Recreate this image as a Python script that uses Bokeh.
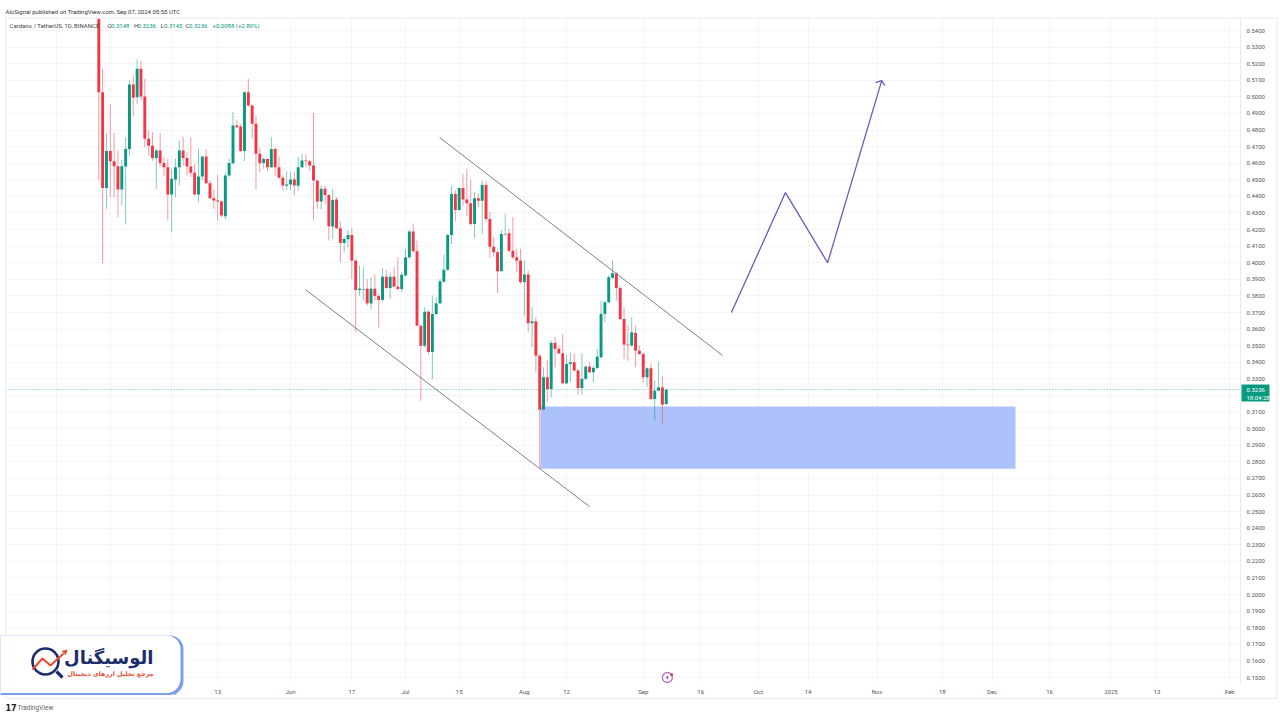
from bokeh.plotting import figure
from bokeh.layouts import column, row
from bokeh.models import FixedTicker, NumeralTickFormatter, Label, BoxAnnotation
from bokeh.embed import file_html
from bokeh.resources import INLINE

opens = [.575,.5028,.4450,.4673,.4612,.4582,.4442,.4580,.4685,.5075,
 .4998,.5169,.5002,.4747,.4705,.4632,.4677,.4602,.4576,.4411,
 .4502,.4576,.4677,.4632,.4580,.4542,.4411,.4520,.4640,.4480,
 .4389,.4375,.4369,.4281,.4526,.4600,.4827,.4821,.4673,.5028,
 .4948,.4838,.4657,.4602,.4626,.4576,.4685,.4576,.4512,.4464,
 .4472,.4502,.4464,.4576,.4616,.4612,.4586,.4496,.4369,.4446,
 .4409,.4218,.4381,.4208,.4119,.4141,.4167,.4013,.3836,.3838,
 .3844,.3755,.3844,.3800,.3776,.3916,.3848,.3916,.3856,.3842,
 .3924,.4033,.4188,.4069,.3621,.3500,.3705,.3462,.3691,.3755,
 .3886,.3958,.4167,.4415,.4318,.4451,.4381,.4358,.4234,.4389,
 .4374,.4469,.4264,.4097,.4063,.3949,.4170,.4178,.4073,.4033,
 .4013,.3883,.3929,.3635,.3647,.3440,.3115,.3310,.3239,.3517,
 .3481,.3454,.3273,.3390,.3400,.3350,.3245,.3300,.3374,.3340,
 .3366,.3430,.3692,.3762,.3909,.3937,.3848,.3661,.3507,.3501,
 .3577,.3470,.3450,.3310,.3364,.3179,.3229,.3249,.3148]
closes = [.5028,.4450,.4673,.4612,.4582,.4442,.4582,.4685,.5075,.4994,
 .5169,.5002,.4747,.4705,.4631,.4677,.4602,.4576,.4411,.4506,
 .4576,.4677,.4632,.4580,.4542,.4411,.4520,.4640,.4480,.4389,
 .4375,.4369,.4285,.4526,.4602,.4827,.4817,.4673,.5028,.4948,
 .4838,.4657,.4600,.4626,.4576,.4685,.4576,.4512,.4466,.4472,
 .4502,.4466,.4576,.4616,.4612,.4586,.4496,.4369,.4446,.4409,
 .4220,.4379,.4208,.4119,.4143,.4167,.4013,.3836,.3844,.3842,
 .3755,.3844,.3800,.3776,.3916,.3848,.3916,.3856,.3842,.3928,
 .4033,.4188,.4069,.3621,.3500,.3705,.3462,.3691,.3755,.3888,
 .3958,.4167,.4415,.4318,.4451,.4381,.4358,.4234,.4389,.4374,
 .4469,.4264,.4097,.4063,.3948,.4174,.4174,.4073,.4033,.4013,
 .3883,.3929,.3635,.3647,.3440,.3115,.3310,.3239,.3517,.3481,
 .3454,.3273,.3390,.3400,.3350,.3245,.3300,.3374,.3340,.3366,
 .3434,.3692,.3762,.3913,.3937,.3848,.3661,.3507,.3503,.3581,
 .3470,.3450,.3310,.3364,.3179,.3229,.3249,.3145,.3236]
highs = [.60,.5169,.4781,.4954,.4783,.4677,.4620,.4757,.5099,.5129,
 .5225,.5219,.5109,.4801,.4787,.4687,.4783,.4636,.4626,.4566,
 .4626,.4737,.4761,.4667,.4757,.4596,.4687,.4640,.4687,.4496,
 .4440,.4530,.4375,.4542,.4626,.4908,.4862,.4837,.5034,.5109,
 .4954,.4888,.4693,.4637,.4630,.4757,.4697,.4640,.4526,.4552,
 .4550,.4550,.4637,.4657,.4651,.4620,.4902,.4496,.4466,.4466,
 .4415,.4445,.4395,.4250,.4157,.4198,.4210,.4023,.3983,.3973,
 .3902,.3912,.3928,.3812,.3968,.3956,.3942,.3973,.4033,.3942,
 .4083,.4198,.4238,.4133,.3621,.3731,.3711,.3802,.3792,.3902,
 .4049,.4173,.4465,.4435,.4455,.4535,.4565,.4499,.4425,.4415,
 .4495,.4491,.4304,.4157,.4073,.4198,.4295,.4204,.4275,.4084,
 .4084,.4013,.3953,.3732,.3671,.3450,.3370,.3410,.3531,.3551,
 .3501,.3567,.3446,.3460,.3454,.3360,.3454,.3380,.3400,.3380,
 .3481,.3772,.3772,.3923,.4013,.3943,.3862,.3732,.3621,.3671,
 .3621,.3501,.3454,.3370,.3394,.3290,.3404,.3320,.3236]
lows = [.4496,.3997,.4325,.4395,.4395,.4275,.4345,.4231,.4647,.4882,
 .4958,.4978,.4697,.4647,.4616,.4446,.4576,.4526,.4255,.4184,
 .4395,.4466,.4586,.4526,.4516,.4405,.4365,.4496,.4476,.4385,
 .4325,.4255,.4275,.4261,.4516,.4592,.4813,.4667,.4612,.4942,
 .4747,.4442,.4546,.4566,.4552,.4572,.4526,.4506,.4436,.4440,
 .4436,.4405,.4436,.4572,.4576,.4552,.4255,.4325,.4321,.4355,
 .4134,.4143,.4204,.4003,.4063,.4093,.3902,.3581,.3802,.3771,
 .3741,.3721,.3771,.3611,.3767,.3842,.3782,.3852,.3832,.3822,
 .3916,.4023,.4063,.3617,.3168,.3490,.3446,.3299,.3681,.3747,
 .3876,.3952,.4113,.4250,.4314,.4344,.4284,.4224,.4149,.4334,
 .4173,.4244,.4029,.4037,.3816,.3949,.4164,.4063,.4023,.3943,
 .3873,.3682,.3581,.3491,.3340,.2759,.3109,.3159,.3189,.3370,
 .3450,.3269,.3269,.3280,.3346,.3205,.3205,.3294,.3334,.3280,
 .3360,.3426,.3641,.3756,.3903,.3772,.3655,.3420,.3410,.3495,
 .3370,.3446,.3280,.3249,.3173,.3048,.3225,.3032,.3145]

x_tick_days = [-11,3,19,31,50,66,80,94,111,122,142,157,172,185,203,220,233,248,264,276,295]
x_tick_labels = ["Apr","15","May","13","Jun","17","Jul","15","Aug","12","Sep","16","Oct","14","Nov","18","Dec","16","2025","13","Feb"]
y_ticks = [round(0.15 + i * 0.01, 2) for i in range(40)]

upper_days = [88.9, 162.7]
upper_prices = [.4755, .3441]
lower_days = [53.9, 128.0]
lower_prices = [.3838, .2530]
path_days = [165.0, 179.1, 190.1, 204.2]
path_prices = [.3700, .4423, .4000, .5098]
head_days = [202.6, 204.2, 205.0]
head_prices = [.5086, .5098, .5068]
zone_days = [115.2, 239.1]
zone_prices = [.2759, .3133]
last_price = 0.3236

GREEN, RED = "#089981", "#f23645"

# pixel helpers for annotations placed on the page, matching the axis calibration
def X(px): return (px - 98.3) / 3.834
def Y(py): return 0.54 - (py - 30) * 0.01 / 16.59

n = len(opens)
days = list(range(n))
colors = [GREEN if c >= o else RED for o, c in zip(opens, closes)]

p = figure(width=1280, height=720, output_backend="svg", toolbar_location=None,
           x_range=(X(5), X(1240)), y_range=(Y(683), Y(18)), x_axis_location="below",
           y_axis_location="right", background_fill_color="white",
           min_border_left=5, min_border_top=18, min_border_bottom=37, min_border_right=40)
p.outline_line_color = None

p.xaxis.ticker = FixedTicker(ticks=x_tick_days)
p.xaxis.major_label_overrides = {d: t for d, t in zip(x_tick_days, x_tick_labels)}
p.yaxis.ticker = FixedTicker(ticks=y_ticks)
p.yaxis.formatter = NumeralTickFormatter(format="0.0000")
for ax in (p.xaxis[0], p.yaxis[0]):
    ax.major_tick_line_color = None
    ax.minor_tick_line_color = None
    ax.major_tick_out = 0
    ax.major_tick_in = 0
    ax.minor_tick_out = 0
    ax.minor_tick_in = 0
    ax.major_label_text_font = "Roboto"
    ax.major_label_text_font_size = "6px"
    ax.major_label_text_color = "#555555"
p.xaxis.axis_line_color = None
p.yaxis.axis_line_color = "#eaeaea"
p.xaxis.major_label_standoff = 4
p.yaxis.major_label_standoff = 6
p.xgrid.ticker = FixedTicker(ticks=x_tick_days)
p.ygrid.ticker = FixedTicker(ticks=y_ticks)
p.xgrid.grid_line_color = "#f4f5f7"
p.ygrid.grid_line_color = "#f4f5f7"

p.quad(left=[zone_days[0]], right=[zone_days[1]], bottom=[zone_prices[0]], top=[zone_prices[1]],
       fill_color="#adc1fb", line_color=None)
p.line([X(5), X(1240)], [last_price, last_price], line_color="#55c4ab", line_width=1, line_dash="1 2")

p.segment(days, highs, days, lows, line_color=colors, line_width=1, line_alpha=0.5)
p.vbar(x=days, width=0.76, top=opens, bottom=closes, fill_color=colors, line_color=None)

p.line(upper_days, upper_prices, line_color="#808080", line_width=1)
p.line(lower_days, lower_prices, line_color="#808080", line_width=1)
p.line(path_days, path_prices, line_color="#7556b8", line_width=1.3)
p.line(head_days, head_prices, line_color="#7556b8", line_width=1.3)

# event marker on the date scale
p.scatter([148.3], [0.15], size=10, marker="circle", fill_color="white", line_color="#b86fc9", line_width=1.3)
p.scatter([148.3], [0.15], size=4, marker="diamond", fill_color="#9b59b6", line_color=None)
p.scatter([149.4], [0.1517], size=3, marker="circle", fill_color="#f23645", line_color=None)

# transparent sheet over the whole page for everything that sits outside the price pane
ov = figure(width=1280, height=720, output_backend="svg", toolbar_location=None,
            x_range=(X(0), X(1280)), y_range=(Y(720), Y(0)), x_axis_type=None, y_axis_type=None,
            min_border=0, background_fill_color=None, border_fill_color=None, outline_line_color=None)
ov.grid.visible = False

def rule(left, right, top, bottom):
    ov.add_layout(BoxAnnotation(left=X(left), right=X(right), top=Y(top), bottom=Y(bottom), fill_color="#ececec",
                                fill_alpha=1, line_color=None, level="annotation"))
rule(5, 1277, 17, 18)
rule(5, 1277, 697.5, 698.5)
rule(5, 6, 17, 698)
rule(1276, 1277, 17, 698)

def lab(px, py, text, color="#4a4a4a", size=6, font="Roboto", style="normal", align="left", level="annotation"):
    ov.add_layout(Label(x=X(px), y=Y(py), text=text, text_color=color, text_font_size=f"{size}px", text_font=font,
                        text_font_style=style, text_align=align, text_baseline="middle", level=level))

lab(5, 11, "AloSignal published on TradingView.com, Sep 07, 2024 05:55 UTC", "#333333")
lab(9, 25, "Cardano / TetherUS, 1D, BINANCE", "#444444")
for px, head, val in [(107, "O", "0.3148"), (133.5, "H", "0.3236"), (160, "L", "0.3145"), (185, "C", "0.3236")]:
    lab(px, 25, head, "#444444")
    lab(px + 3.5, 25, val, GREEN)
lab(212, 25, "+0.0088 (+2.80%)", GREEN)

# last price tag
ov.add_layout(BoxAnnotation(left=X(1241), right=X(1269), top=Y(384), bottom=Y(401), fill_color=GREEN, fill_alpha=1,
                            line_color=None, level="annotation"))
lab(1246, 389, "0.3236", "white", level="overlay")
lab(1246, 396.5, "18:04:28", "white", level="overlay")

# publisher card
ov.add_layout(BoxAnnotation(left=X(-20), right=X(183), top=Y(635), bottom=Y(694.5), fill_color="#7c9ff0", fill_alpha=1,
                            line_color=None, border_radius=14, level="annotation"))
ov.add_layout(BoxAnnotation(left=X(-20), right=X(180), top=Y(635), bottom=Y(692.5), fill_color="white", fill_alpha=1,
                            line_color=None, border_radius=14, level="annotation"))
ov.scatter([X(45)], [Y(661)], size=26, marker="circle", fill_color="white", line_color="#1b2d6b", line_width=2.6, level="overlay")
ov.line([X(56), X(62)], [Y(671), Y(677)], line_color="#1b2d6b", line_width=3.2, level="overlay")
ov.line([X(32), X(42), X(50), X(63)], [Y(669), Y(658), Y(665), Y(653)], line_color="#ee4a2c", line_width=2, level="overlay")
ov.scatter([X(64.5)], [Y(651.5)], size=6, marker="triangle", fill_color="#ee4a2c", line_color=None, angle=-0.8, level="overlay")
lab(153, 657, "الوسیگنال", "#1b2d6b", 18, "DejaVu Sans", "bold", "right", "overlay")
lab(153, 672.5, "مرجع تحلیل ارزهای دیجیتال", "#ee4a2c", 6.3, "DejaVu Sans", "bold", "right", "overlay")

# footer mark
lab(5, 707, "17", "#222222", 8, "DejaVu Sans", "bold")
lab(17, 707, "TradingView", "#666666", 6.5)

sheet = row(ov, margin=(-720, 0, 0, 0))
root = column(row(p), sheet, spacing=0)
open("out.html", "w").write(file_html(root, INLINE))
